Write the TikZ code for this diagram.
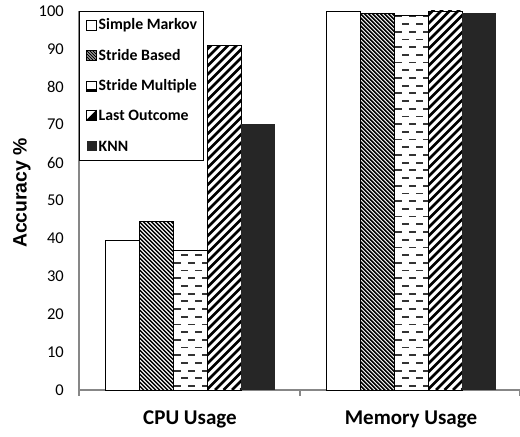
\documentclass[tikz,border=0pt]{standalone}
\usepackage{fontspec}
\setmainfont{Carlito}
\newfontfamily\arialfont{Liberation Sans}
\definecolor{knncol}{HTML}{262626}
\definecolor{axiscol}{HTML}{878787}
\definecolor{dashcol}{HTML}{333333}
\tikzset{
  ticklab/.style={anchor=east, inner sep=0pt, font=\fontsize{16.5bp}{18bp}\selectfont},
  leglab/.style={anchor=west, inner sep=0pt, font=\bfseries\fontsize{15.8bp}{18bp}\selectfont},
  catlab/.style={inner sep=0pt, font=\bfseries\fontsize{21bp}{24bp}\selectfont},
  barline/.style={draw=black, line width=0.9bp},
  axisline/.style={draw=axiscol, line width=1.3bp},
}
% #1 = left x, #2 = value
\newcommand{\plainbar}[2]{%
  \pgfmathsetmacro{\yt}{390-3.79*#2}
  \draw[barline, fill=white] (#1,390) rectangle ({#1+34},\yt);}
\newcommand{\knnbar}[2]{%
  \pgfmathsetmacro{\yt}{390-3.79*#2}
  \fill[knncol] (#1,390) rectangle ({#1+34},\yt);}
\newcommand{\sbbar}[2]{%
  \pgfmathsetmacro{\yt}{390-3.79*#2}
  \begin{scope}
    \clip (#1,390) rectangle ({#1+34},\yt);
    \fill[white] (#1,390) rectangle ({#1+34},\yt);
    \foreach \k in {-400,-396,...,40} {
      \draw[black, line width=1.5bp] ({#1+\k},\yt) -- ({#1+\k+420},{\yt+420});
    }
  \end{scope}
  \draw[barline] (#1,390) rectangle ({#1+34},\yt);}
\newcommand{\lobar}[2]{%
  \pgfmathsetmacro{\yt}{390-3.79*#2}
  \begin{scope}
    \clip (#1,390) rectangle ({#1+34},\yt);
    \fill[white] (#1,390) rectangle ({#1+34},\yt);
    \foreach \k in {-400,-391.5,...,40} {
      \draw[black, line width=2.6bp] ({#1+\k},390) -- ({#1+\k+420},{390-420});
    }
  \end{scope}
  \draw[barline] (#1,390) rectangle ({#1+34},\yt);}
\newcommand{\smbar}[2]{%
  \pgfmathsetmacro{\yt}{390-3.79*#2}
  \begin{scope}
    \clip (#1,390) rectangle ({#1+34},\yt);
    \fill[white] (#1,390) rectangle ({#1+34},\yt);
    \foreach \r in {0,1,...,50} {
      \pgfmathsetmacro{\yy}{386-7.7*\r}
      \pgfmathsetmacro{\ph}{mod(\r,2)*7}
      \draw[dashcol, line width=1.8bp, dash pattern=on 7bp off 7bp, dash phase=\ph bp] ({#1+1},\yy) -- ({#1+40},\yy);
    }
  \end{scope}
  \draw[barline] (#1,390) rectangle ({#1+34},\yt);}
\begin{document}
\begin{tikzpicture}[x=1bp,y=-1bp]
\useasboundingbox (0,0) rectangle (520,437);
% axes
\draw[axisline] (79,11) -- (79,390) -- (520,390);
\draw[axisline] (79,390) -- (79,396);
\draw[axisline] (300,390) -- (300,396);
\draw[axisline] (519.5,390) -- (519.5,396);
\foreach \v in {0,10,...,100} {
  \node[ticklab] (t\v) at (64,{390-3.79*\v}) {\v};
}
% CPU bars
\plainbar{105}{39.4}
\sbbar{139}{44.5}
\smbar{173}{36.8}
\lobar{207}{90.8}
\knnbar{241}{70.2}
% Memory bars
\plainbar{326}{99.9}
\sbbar{360}{99.4}
\smbar{394}{98.9}
\lobar{428}{100}
\knnbar{462}{99.4}
% category labels
\node[catlab] (cpu) at (190,419) {CPU Usage};
\node[catlab] (mem) at (411,419) {Memory Usage};
% y label
\node[rotate=90, inner sep=0pt, font=\arialfont\bfseries\fontsize{19.4bp}{22bp}\selectfont] (ylab) at (22,193) {Accuracy \%};
% legend
\draw[black, line width=0.8bp, fill=white] (79,11) rectangle (203,160);
% markers
\draw[black, line width=0.8bp, fill=white] (86.5,20.5) rectangle (96.5,30.5);
\node[leglab] (l1) at (98.5,25) {Simple Markov};
\begin{scope}
  \clip (86.5,50.5) rectangle (96.5,60.5);
  \fill[white] (86.5,50.5) rectangle (96.5,60.5);
  \foreach \k in {-12,-9,...,12} {\draw[black, line width=1.2bp] ({86.5+\k},50.5) -- ({96.5+\k},60.5);}
\end{scope}
\draw[black, line width=0.9bp] (86.5,50.5) rectangle (96.5,60.5);
\node[leglab] (l2) at (98.5,55) {Stride Based};
\draw[black, line width=0.8bp, fill=white] (86.5,81) rectangle (96.5,91);
\draw[black, line width=1.8bp] (86.5,90.3) -- (96.5,90.3);
\node[leglab] (l3) at (98.5,86) {Stride Multiple};
\draw[black, line width=0.8bp, fill=white] (86.5,110) rectangle (96.5,120);
\fill[black] (86.5,120) -- (96.5,110) -- (96.5,120) -- cycle;
\node[leglab] (l4) at (98.5,115) {Last Outcome};
\fill[knncol] (86.5,141) rectangle (96.5,151);
\node[leglab] (l5) at (98.5,146) {KNN};
\end{tikzpicture}
\end{document}
